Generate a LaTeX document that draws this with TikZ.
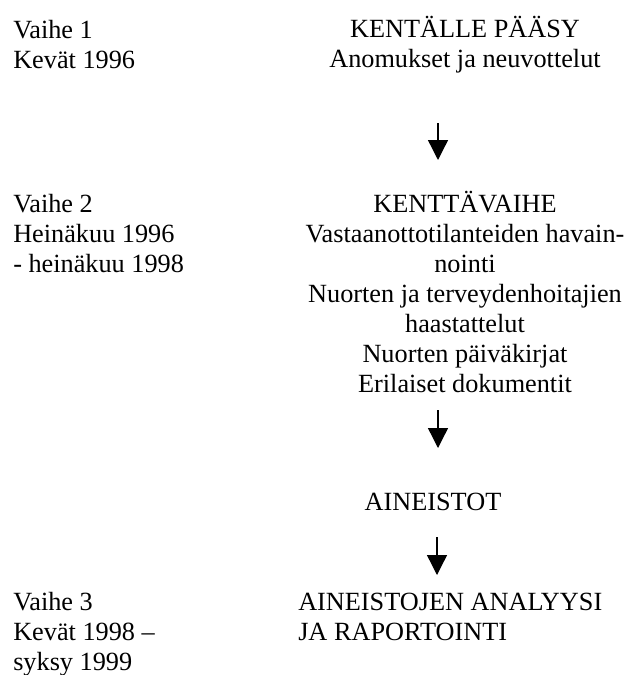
\documentclass[tikz,border=0pt]{standalone}
\usepackage{fontspec}
\setmainfont{Liberation Serif}
\usetikzlibrary{arrows.meta}
\tikzset{
  phase/.style={anchor=base west, align=left, inner sep=0pt},
  stage/.style={anchor=base, align=center, inner sep=0pt},
  flow/.style={-{Triangle[length=15pt,width=15pt]}, line width=1pt}
}
\begin{document}
\begin{tikzpicture}[x=0.75pt,y=0.75pt,
    every node/.style={font=\fontsize{19.7}{22.4}\selectfont}]
  \useasboundingbox (0,0) rectangle (631,-675);
  % left column (placed at the baseline of the last line)
  \node[phase] (vaihe1) at (13,-68) {Vaihe 1\\Kevät 1996};
  \node[phase] (vaihe2) at (13,-272) {Vaihe 2\\Heinäkuu 1996\\- heinäkuu 1998};
  \node[phase] (vaihe3) at (13,-670) {Vaihe 3\\Kevät 1998 --\\syksy 1999};
  % right column
  \node[stage] (paasy) at (465,-67) {KENTÄLLE PÄÄSY\\Anomukset ja neuvottelut};
  \node[stage] (kentta) at (465,-392)
      {KENTTÄVAIHE\\Vastaanottotilanteiden havain-\\nointi\\
       Nuorten ja terveydenhoitajien\\haastattelut\\
       Nuorten päiväkirjat\\Erilaiset dokumentit};
  \node[stage] (aineistot) at (433,-510) {AINEISTOT};
  \node[phase] (analyysi) at (298,-640) {AINEISTOJEN ANALYYSI\\JA RAPORTOINTI};
  % arrows
  \coordinate (n1) at (438,-123);
  \coordinate (k1) at (438,-160);
  \coordinate (n2) at (438,-410);
  \coordinate (k2) at (438,-448);
  \coordinate (n3) at (437,-537);
  \coordinate (k3) at (437,-575);
  \draw[flow] (n1) -- (k1);
  \draw[flow] (n2) -- (k2);
  \draw[flow] (n3) -- (k3);
\end{tikzpicture}
\end{document}
